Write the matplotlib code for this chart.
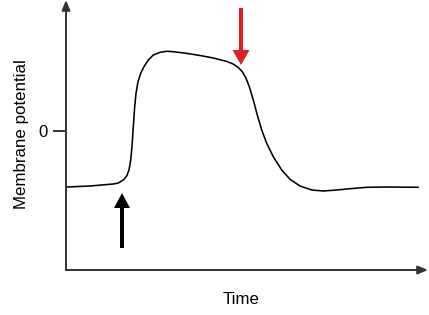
import matplotlib
matplotlib.use("Agg")
import matplotlib.pyplot as plt
from matplotlib.patches import FancyArrow

plt.rcParams['font.family'] = ['Liberation Sans', 'DejaVu Sans']

# Trace (arbitrary units, 0 = zero potential)
time = [1, 24, 47.3, 52.3, 57.3, 60.7, 63, 64.7, 66, 67.3, 68.7, 70, 72, 74.7,
        78, 82.3, 87.3, 94, 100.7, 107.3, 121, 134, 147.3, 160.7, 167.3, 172.3,
        176.3, 180, 183.3, 187.3, 191.3, 195.7, 200.7, 207.3, 215.7, 224, 234,
        245.7, 257.3, 270.7, 284, 300.7, 320.7, 352.3]
potential = [-56, -55, -53, -52, -49, -45, -39, -29, -15.7, 4.3, 24.3, 37.7,
             49.3, 57.7, 64.3, 71, 76, 78.7, 79.7, 79.3, 77.6, 75.5, 73, 69.6,
             66.9, 63.5, 59.3, 52.7, 44.3, 31, 16, 1, -12.3, -25.7, -39, -48.3,
             -55, -59, -60, -59, -57.7, -56.3, -56, -56.3]

# Stimulus markers
black_arrow_time, black_arrow_from, black_arrow_to = 56, -117, -62
red_arrow_time, red_arrow_from, red_arrow_to = 175, 123, 66

fig = plt.figure(figsize=(4.29, 3.15), dpi=100)
ax = fig.add_axes([66/429, 45/315, 362/429, 270/315])
ax.set_xlim(0, 362)
ax.set_ylim(-139, 131)
for s in ax.spines.values():
    s.set_visible(False)

axis_color = '#333333'
# axes with arrowheads
ax.annotate('', xy=(362, -139), xytext=(0, -139),
            arrowprops=dict(arrowstyle='-|>,head_length=0.6,head_width=0.25',
                            color=axis_color, lw=1.4, shrinkA=0, shrinkB=0),
            annotation_clip=False)
ax.annotate('', xy=(0, 131), xytext=(0, -139),
            arrowprops=dict(arrowstyle='-|>,head_length=0.6,head_width=0.25',
                            color=axis_color, lw=1.4, shrinkA=0, shrinkB=0),
            annotation_clip=False)

ax.plot(time, potential, color='black', lw=1.15, solid_joinstyle='round',
        solid_capstyle='round')

ax.add_patch(FancyArrow(black_arrow_time, black_arrow_from, 0,
                        black_arrow_to - black_arrow_from, width=4,
                        head_width=16, head_length=15,
                        length_includes_head=True, color='black', lw=0))
ax.add_patch(FancyArrow(red_arrow_time, red_arrow_from, 0,
                        red_arrow_to - red_arrow_from, width=4,
                        head_width=17, head_length=15,
                        length_includes_head=True, color='#e31e2a', lw=0))

ax.set_xticks([])
ax.set_yticks([0])
ax.set_yticklabels(['0'])
ax.tick_params(axis='y', length=9.4, width=1.4, color=axis_color, pad=3.5,
               labelsize=12)

fig.text(22/429, 1 - 134/315, 'Membrane potential', rotation=90,
         ha='center', va='center', fontsize=12.2)
fig.text(241/429, 1 - 300/315, 'Time', ha='center', va='center', fontsize=12.2)

fig.savefig('out.png', dpi=100)
